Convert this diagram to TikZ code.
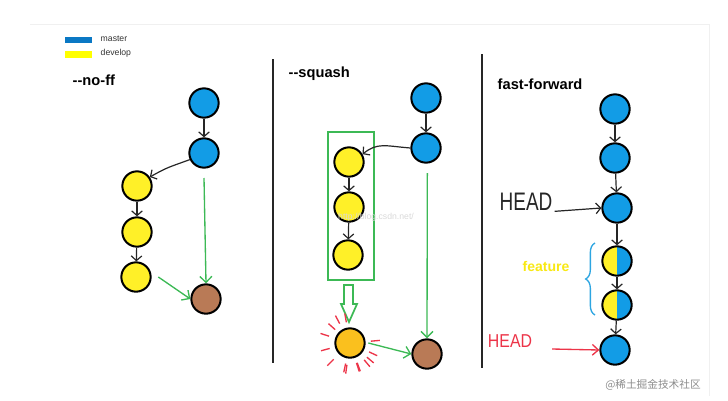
\documentclass[tikz,border=0pt]{standalone}
\usepackage{fontspec}
\setmainfont{Liberation Sans}
\newfontfamily\cjk{Noto Sans CJK SC}
\usetikzlibrary{arrows.meta,decorations.pathreplacing}
\definecolor{cblue}{RGB}{18,156,230}
\definecolor{lblue}{RGB}{10,120,196}
\definecolor{cyellow}{RGB}{255,240,40}
\definecolor{lyellow}{RGB}{255,255,0}
\definecolor{cbrown}{RGB}{185,122,86}
\definecolor{corange}{RGB}{250,192,30}
\definecolor{cgreen}{RGB}{60,185,85}
\definecolor{cred}{RGB}{236,52,72}
\definecolor{fyellow}{RGB}{248,232,20}
\definecolor{cbrace}{RGB}{45,165,225}
\begin{document}
\begin{tikzpicture}[x=0.75pt,y=-0.75pt,
  commit/.style={circle,draw=black,line width=1.5pt,minimum size=22pt,inner sep=0pt},
  bnode/.style={commit,fill=cblue},
  ynode/.style={commit,fill=cyellow},
  brnode/.style={commit,fill=cbrown},
  onode/.style={commit,fill=corange},
  hnode/.style={commit,path picture={
     \fill[cyellow] (path picture bounding box.south west) rectangle (path picture bounding box.north);
     \fill[cblue] (path picture bounding box.south) rectangle (path picture bounding box.north east);}},
  link/.style={draw=black!85,line width=0.9pt,-{Straight Barb[length=3.5pt,width=8pt]}},
  glink/.style={draw=cgreen,line width=1pt,-{Straight Barb[length=4.5pt,width=9pt]}},
  rlink/.style={draw=cred,line width=1pt,-{Straight Barb[length=4.5pt,width=8pt]}},
  title/.style={font=\bfseries\fontsize{11}{13}\selectfont,anchor=west},
  legend/.style={font=\fontsize{6.5}{8}\selectfont,anchor=west,text=black!80},
  divider/.style={draw=black!85,line width=1.6pt}
]
\useasboundingbox (0,0) rectangle (728,400);
\draw[black!6,line width=0.6pt] (30,24) -- (709,24) -- (709,396);

% legend
\fill[lblue] (65,37) rectangle (92,43);
\node[legend] (lm) at (96,39) {master};
\fill[lyellow] (65,51) rectangle (92,58);
\node[legend] (ld) at (96,53) {develop};

% dividers
\draw[divider] (273,59) -- (273,363);
\draw[divider] (482,54) -- (482,368);

% titles
\node[title] (t1) at (68,80) {-{}-no-ff};
\node[title] (t2) at (284,74) {-{}-squash};
\node[title] (t3) at (493,84) {fast-forward};

% panel 1
\node[bnode] (a1) at (204,103) {};
\node[bnode] (a2) at (204,153) {};
\node[ynode] (a3) at (137,186) {};
\node[ynode] (a4) at (137,232) {};
\node[ynode] (a5) at (136,277) {};
\node[brnode] (a6) at (206,299) {};
\draw[link] (a1) -- (a2);
\draw[link] (a2.205) .. controls +(-22,8) and +(18,-10) .. (a3.35);
\draw[link] (a3) -- (a4);
\draw[link] (a4) -- (a5);
\draw[glink] ([yshift=-7pt]a2.south) -- (a6.north);
\draw[glink] ([xshift=5pt]a5.east) -- (a6.west);

% panel 2
\node[bnode] (b1) at (426,98) {};
\node[bnode] (b2) at (426,148) {};
\node[ynode] (b3) at (349,162) {};
\node[ynode] (b4) at (349,207) {};
\node[ynode] (b5) at (348,255) {};
\node[onode] (b6) at (350,343) {};
\node[brnode] (b7) at (427,354) {};
\draw[cgreen,line width=1.3pt] (328,132) rectangle (374,280);
\draw[link] (b1) -- (b2);
\draw[link] (b2.west) .. controls +(-25,-2) and +(15,-12) .. (b3.30);
\draw[link] (b3) -- (b4);
\draw[link] (b4) -- (b5);
\draw[glink] ([yshift=-7pt,xshift=1pt]b2.south) -- (b7.north);
\draw[glink] ([xshift=2pt]b6.east) -- (b7.west);
\draw[cgreen,line width=1.3pt,line join=miter] (344,285) -- (353,285) -- (353,304) -- (357,304)
   -- (349,322) -- (341,304) -- (344,304) -- cycle;
\foreach \a/\r in {-100/21,-118/22,-138/20,-162/22,-195/21,-225/23,-258/21,-290/21,-320/22,-5/21,25/21,50/22,72/21,98/22}{
  \draw[cred,line width=1pt,shift={(b6.center)}] (\a:\r) -- (\a:\r+9);
}
\node[text=black!15,font=\fontsize{6.5}{8}\selectfont] (wm) at (376,217) {http://blog.csdn.net/};

% panel 3
\node[bnode] (c1) at (615,109) {};
\node[bnode] (c2) at (615,158) {};
\node[bnode] (c3) at (617,208) {};
\node[hnode] (c4) at (617,261) {};
\node[hnode] (c5) at (617,305) {};
\node[bnode] (c6) at (615,350) {};
\draw[link] (c1) -- (c2);
\draw[link] (c2) -- (c3);
\draw[link] (c3) -- (c4);
\draw[link] (c4) -- (c5);
\draw[link] (c5) -- (c6);
\node[font=\fontsize{19}{20}\selectfont,xscale=0.75,text=black!85] (h1) at (526,202) {HEAD};
\draw[link] ([xshift=-1pt,yshift=-7pt]h1.east) -- (c3.west);
\node[font=\fontsize{14}{15}\selectfont,xscale=0.85,text=cred] (h2) at (510,341) {HEAD};
\draw[rlink] ([xshift=12pt,yshift=-6pt]h2.east) -- (c6.west);
\node[font=\bfseries\fontsize{10.5}{12}\selectfont,text=fyellow] (feat) at (546,266) {feature};
\coordinate (bt) at (595,243);
\coordinate (bb) at (595,315);
\draw[cbrace,line width=1pt,decorate,decoration={brace,amplitude=7pt}] (bb) -- (bt);

\node[text=black!45,font=\cjk\fontsize{8}{9}\selectfont] (jj) at (653,385) {@稀土掘金技术社区};
\end{tikzpicture}
\end{document}
